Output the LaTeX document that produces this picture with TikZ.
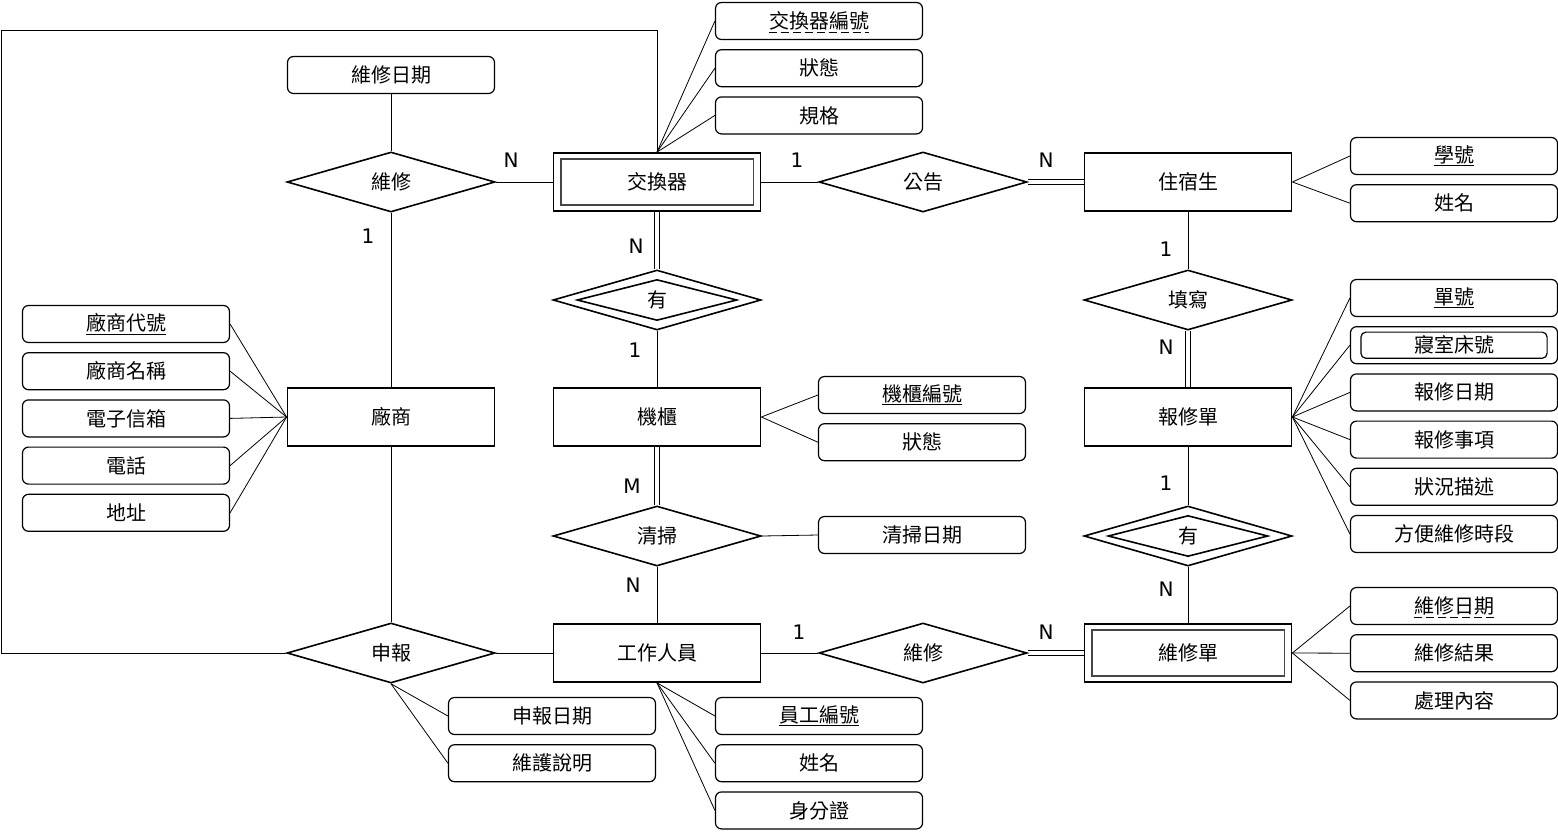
\documentclass[tikz,border=0pt]{standalone}
\usepackage{fontspec}
\setmainfont{Noto Sans CJK TC}
\newfontfamily\cardfont{DejaVu Sans}
\usetikzlibrary{positioning,shapes.geometric}

\begin{document}
\begin{tikzpicture}[
  x=1pt, y=-1pt,
  font=\fontsize{20}{24}\selectfont,
  node distance=9pt and 9pt,
  ent/.style={draw, line width=1.8pt, minimum width=207pt, minimum height=58pt, inner sep=0pt},
  rel/.style={draw, diamond, aspect=3.5, line width=1.6pt, minimum width=208pt, minimum height=60pt, inner sep=0pt},
  relin/.style={rel, minimum width=160pt, minimum height=41pt},
  attr/.style={draw, rounded corners=6pt, line width=1.2pt, minimum width=207pt, minimum height=37pt, inner sep=0pt},
  ln/.style={line width=0.8pt},
  dashu/.style={dashed, dash pattern=on 8pt off 4pt, line width=1.2pt},
  card/.style={inner sep=0pt, font=\cardfont\fontsize{20}{24}\selectfont}
]
\useasboundingbox (0,0) rectangle (1558,836);

% entities
\node[ent] (xch) at (657,182) {交換器};
\node[ent] (stu) at (1188,182) {住宿生};
\node[ent] (ven) at (391,417) {廠商};
\node[ent] (cab) at (657,417) {機櫃};
\node[ent] (rpt) at (1188,417) {報修單};
\node[ent] (staff) at (657,653) {工作人員};
\node[ent] (fix) at (1188,653) {維修單};
\draw[gray!55!black, line width=1.8pt] ([xshift=8pt,yshift=-7pt]xch.north west) rectangle ([xshift=-8pt,yshift=7pt]xch.south east);
\draw[gray!55!black, line width=1.8pt] ([xshift=8pt,yshift=-7pt]fix.north west) rectangle ([xshift=-8pt,yshift=7pt]fix.south east);

% relationships
\node[rel] (repair1) at (391,182) {維修};
\node[rel] (notice) at (923,182) {公告};
\node[rel] (has1) at (657,300) {};
\node[relin] (has1in) at (has1) {有};
\node[rel] (fill) at (1188,300) {填寫};
\node[rel] (clean) at (657,536) {清掃};
\node[rel] (has2) at (1188,536) {};
\node[relin] (has2in) at (has2) {有};
\node[rel] (declare) at (391,653) {申報};
\node[rel] (repair2) at (923,653) {維修};

% attributes
\node[attr] (xchid) at (819,21) {};
\node[inner sep=0pt] (xchidt) at (xchid) {交換器編號};
\draw[dashu] ([yshift=-4pt]xchidt.base west) -- ([yshift=-4pt]xchidt.base east);
\node[attr, below=of xchid] (xchst) {狀態};
\node[attr, below=of xchst] (xchspec) {規格};
\node[attr] (rdate) at (391,75) {維修日期};
\node[attr] (sid) at (1454,156) {\underline{學號}};
\node[attr, below=of sid] (sname) {姓名};
\node[attr] (rno) at (1454,298) {\underline{單號}};
\node[attr, below=of rno] (bed) {寢室床號};
\node[attr, below=of bed] (rday) {報修日期};
\node[attr, below=of rday] (ritem) {報修事項};
\node[attr, below=of ritem] (rdesc) {狀況描述};
\node[attr, below=of rdesc] (rtime) {方便維修時段};
\draw[line width=1.2pt, rounded corners=5pt] ([xshift=11pt,yshift=-6pt]bed.north west) rectangle ([xshift=-11pt,yshift=6pt]bed.south east);
\node[attr] (fdate) at (1454,606) {};
\node[inner sep=0pt] (fdatet) at (fdate) {維修日期};
\draw[dashu] ([yshift=-4pt]fdatet.base west) -- ([yshift=-4pt]fdatet.base east);
\node[attr, below=of fdate] (fres) {維修結果};
\node[attr, below=of fres] (fcont) {處理內容};
\node[attr] (cabid) at (922,395) {\underline{機櫃編號}};
\node[attr, below=of cabid] (cabst) {狀態};
\node[attr] (cdate) at (922,535) {清掃日期};
\node[attr] (vid) at (126,324) {\underline{廠商代號}};
\node[attr, below=of vid] (vname) {廠商名稱};
\node[attr, below=of vname] (vmail) {電子信箱};
\node[attr, below=of vmail] (vtel) {電話};
\node[attr, below=of vtel] (vaddr) {地址};
\node[attr] (ddate) at (552,716) {申報日期};
\node[attr, below=of ddate] (dnote) {維護說明};
\node[attr] (eid) at (819,716) {\underline{員工編號}};
\node[attr, below=of eid] (ename) {姓名};
\node[attr, below=of ename] (eidc) {身分證};

% attribute links
\foreach \a in {xchid,xchst,xchspec} \draw[ln] (xch.north) -- (\a.west);
\draw[ln] (repair1.north) -- (rdate.south);
\foreach \a in {sid,sname} \draw[ln] (stu.east) -- (\a.west);
\foreach \a in {rno,bed,rday,ritem,rdesc,rtime} \draw[ln] (rpt.east) -- (\a.west);
\foreach \a in {fdate,fres,fcont} \draw[ln] (fix.east) -- (\a.west);
\foreach \a in {cabid,cabst} \draw[ln] (cab.east) -- (\a.west);
\draw[ln] (clean.east) -- (cdate.west);
\foreach \a in {vid,vname,vmail,vtel,vaddr} \draw[ln] (ven.west) -- (\a.east);
\foreach \a in {ddate,dnote} \draw[ln] (declare.south) -- (\a.west);
\foreach \a in {eid,ename,eidc} \draw[ln] (staff.south) -- (\a.west);

% relationship links
\draw[ln] (repair1.east) -- (xch.west);
\draw[ln] (repair1.south) -- (ven.north);
\draw[ln] (xch.east) -- (notice.west);
\draw[ln] (has1.south) -- (cab.north);
\draw[ln] (clean.south) -- (staff.north);
\draw[ln] (stu.south) -- (fill.north);
\draw[ln] (rpt.south) -- (has2.north);
\draw[ln] (has2.south) -- (fix.north);
\draw[ln] (ven.south) -- (declare.north);
\draw[ln] (declare.east) -- (staff.west);
\draw[ln] (staff.east) -- (repair2.west);
% total participation, two lines
\foreach \s in {-2.3,2.3} {
  \draw[ln] ([yshift=\s pt]notice.east) -- ([yshift=\s pt]stu.west);
  \draw[ln] ([yshift=\s pt]repair2.east) -- ([yshift=\s pt]fix.west);
  \draw[ln] ([xshift=\s pt]xch.south) -- ([xshift=\s pt]has1.north);
  \draw[ln] ([xshift=\s pt]cab.south) -- ([xshift=\s pt]clean.north);
  \draw[ln] ([xshift=\s pt]fill.south) -- ([xshift=\s pt]rpt.north);
}
\coordinate (loop) at (1,30);
\draw[ln] (declare.west) -| (loop) -| (xch.north);

% cardinalities
\node[card] (c1) at (511,160) {N};
\node[card] (c2) at (368,236) {1};
\node[card] (c3) at (797,160) {1};
\node[card] (c4) at (1046,160) {N};
\node[card] (c5) at (636,246) {N};
\node[card] (c6) at (635,350) {1};
\node[card] (c7) at (632,486) {M};
\node[card] (c8) at (633,585) {N};
\node[card] (c9) at (1166,249) {1};
\node[card] (c10) at (1166,347) {N};
\node[card] (c11) at (1166,483) {1};
\node[card] (c12) at (1166,589) {N};
\node[card] (c13) at (799,632) {1};
\node[card] (c14) at (1046,632) {N};
\end{tikzpicture}
\end{document}
